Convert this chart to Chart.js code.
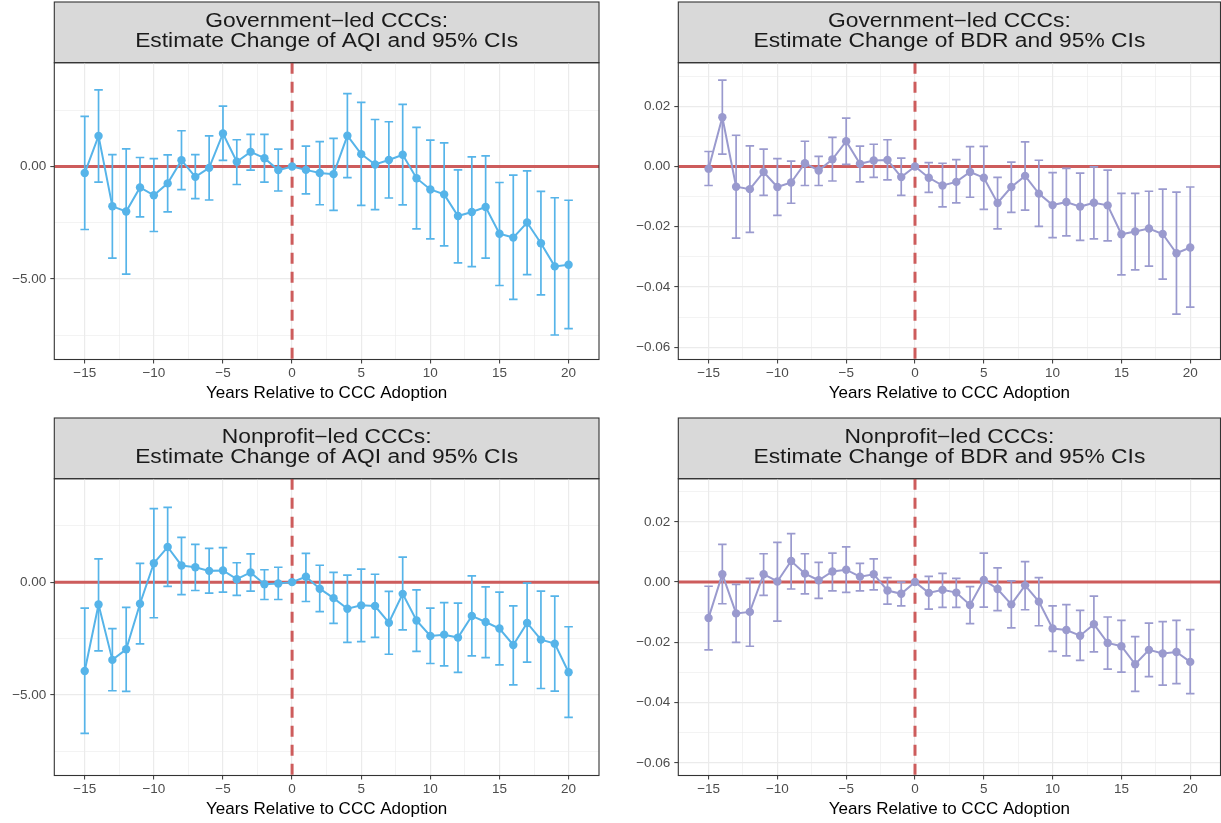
<!DOCTYPE html>
<html>
<head>
<meta charset="utf-8">
<script src="https://cdn.jsdelivr.net/npm/chart.js@4.4.1/dist/chart.umd.min.js"></script>
<style>
  body { margin: 0; background: #fff; width: 1221px; height: 823px; overflow: hidden; position: relative; }
  canvas { position: absolute; }
</style>
</head>
<body>
<canvas id="govAqi" width="605" height="405" style="left:0;top:0"></canvas>
<canvas id="govBdr" width="605" height="405" style="left:620px;top:0"></canvas>
<canvas id="npAqi" width="605" height="405" style="left:0;top:416px"></canvas>
<canvas id="npBdr" width="605" height="405" style="left:620px;top:416px"></canvas>
<script>
// years relative to adoption
const years = [-15,-14,-13,-12,-11,-10,-9,-8,-7,-6,-5,-4,-3,-2,-1,0,1,2,3,4,5,6,7,8,9,10,11,12,13,14,15,16,17,18,19,20];

// Government-led, AQI
const govAqiEst = [-0.29,1.36,-1.77,-2.00,-0.93,-1.28,-0.75,0.28,-0.46,-0.06,1.47,0.21,0.65,0.37,-0.16,0,-0.15,-0.29,-0.34,1.37,0.55,0.09,0.29,0.52,-0.52,-1.02,-1.24,-2.20,-2.02,-1.80,-2.99,-3.16,-2.49,-3.41,-4.44,-4.37];
const govAqiLo = [-2.80,-0.69,-4.07,-4.78,-2.24,-2.89,-2.02,-1.03,-1.43,-1.49,0.27,-0.80,-0.16,-0.69,-1.09,null,-1.22,-1.70,-1.95,-0.49,-1.73,-1.92,-1.40,-1.71,-2.77,-3.22,-3.53,-4.28,-4.45,-4.07,-5.29,-5.91,-4.81,-5.71,-7.49,-7.21];
const govAqiHi = [2.23,3.41,0.53,0.78,0.40,0.35,0.52,1.59,0.53,1.36,2.68,1.19,1.43,1.43,0.77,null,0.91,1.11,1.25,3.24,2.85,2.09,1.99,2.76,1.74,1.17,1.05,-0.15,0.43,0.47,-0.71,-0.38,-0.19,-1.11,-1.39,-1.50];

// Government-led, BDR
const govBdrEst = [-0.0007,0.0164,-0.0067,-0.0075,-0.0018,-0.0068,-0.0053,0.0011,-0.0013,0.0024,0.0084,0.0009,0.0020,0.0022,-0.0035,0,-0.0037,-0.0063,-0.0051,-0.0018,-0.0037,-0.0121,-0.0068,-0.0031,-0.0090,-0.0128,-0.0118,-0.0133,-0.0120,-0.0129,-0.0225,-0.0216,-0.0206,-0.0224,-0.0288,-0.0269];
const govBdrLo = [-0.0063,0.0041,-0.0238,-0.0219,-0.0096,-0.0162,-0.0122,-0.0063,-0.0063,-0.0048,0.0007,-0.0051,-0.0036,-0.0044,-0.0096,null,-0.0086,-0.0134,-0.0121,-0.0102,-0.0142,-0.0207,-0.0152,-0.0145,-0.0199,-0.0236,-0.0230,-0.0245,-0.0240,-0.0247,-0.0360,-0.0343,-0.0331,-0.0374,-0.0490,-0.0467];
const govBdrHi = [0.0050,0.0287,0.0104,0.0069,0.0058,0.0026,0.0018,0.0084,0.0034,0.0097,0.0161,0.0068,0.0074,0.0089,0.0028,null,0.0013,0.0011,0.0023,0.0066,0.0067,-0.0036,0.0015,0.0082,0.0021,-0.0020,-0.0006,-0.0022,-0.0001,-0.0012,-0.0089,-0.0089,-0.0082,-0.0075,-0.0085,-0.0068];

// Nonprofit-led, AQI
const npAqiEst = [-3.94,-0.99,-3.45,-2.98,-0.96,0.84,1.56,0.74,0.66,0.50,0.52,0.13,0.43,-0.09,-0.06,0,0.24,-0.29,-0.71,-1.18,-1.03,-1.06,-1.80,-0.52,-1.70,-2.39,-2.33,-2.46,-1.50,-1.77,-2.06,-2.79,-1.81,-2.55,-2.73,-4.00];
const npAqiLo = [-6.71,-3.05,-4.82,-4.85,-2.74,-1.58,-0.19,-0.55,-0.37,-0.49,-0.44,-0.59,-0.40,-0.77,-0.77,null,-0.86,-1.31,-1.83,-2.67,-2.64,-2.45,-3.20,-2.12,-3.07,-3.61,-3.72,-4.00,-3.27,-3.35,-3.67,-4.56,-3.55,-4.72,-4.84,-6.00];
const npAqiHi = [-1.15,1.03,-2.06,-1.12,0.83,3.26,3.32,1.99,1.68,1.50,1.53,0.86,1.25,0.55,0.66,null,1.28,0.75,0.43,0.31,0.58,0.35,-0.41,1.11,-0.34,-1.15,-0.91,-0.93,0.28,-0.21,-0.44,-1.05,-0.04,-0.40,-0.62,-1.98];

// Nonprofit-led, BDR
const npBdrEst = [-0.0119,0.0026,-0.0104,-0.0099,0.0026,0.0002,0.0070,0.0028,0.0006,0.0035,0.0041,0.0018,0.0026,-0.0028,-0.0039,0,-0.0036,-0.0026,-0.0035,-0.0076,0.0007,-0.0023,-0.0074,-0.0011,-0.0065,-0.0154,-0.0159,-0.0178,-0.0140,-0.0202,-0.0213,-0.0273,-0.0225,-0.0237,-0.0232,-0.0265];
const npBdrLo = [-0.0225,-0.0072,-0.0200,-0.0213,-0.0044,-0.0130,-0.0023,-0.0039,-0.0054,-0.0029,-0.0034,-0.0029,-0.0026,-0.0073,-0.0079,null,-0.0090,-0.0084,-0.0084,-0.0138,-0.0083,-0.0095,-0.0152,-0.0092,-0.0145,-0.0230,-0.0245,-0.0260,-0.0232,-0.0289,-0.0299,-0.0363,-0.0314,-0.0342,-0.0337,-0.0370];
const npBdrHi = [-0.0014,0.0125,-0.0008,0.0012,0.0094,0.0132,0.0161,0.0094,0.0065,0.0096,0.0117,0.0062,0.0077,0.0015,0.0000,null,0.0019,0.0029,0.0012,-0.0015,0.0096,0.0047,0.0004,0.0068,0.0015,-0.0079,-0.0075,-0.0094,-0.0047,-0.0116,-0.0127,-0.0181,-0.0136,-0.0131,-0.0127,-0.0158];

// ticks
const xMajorTicks = [-15,-10,-5,0,5,10,15,20];
const xMinorTicks = [-12.5,-7.5,-2.5,2.5,7.5,12.5,17.5];
const aqiMajorTicks = [-5,0];
const aqiMinorTicks = [-7.5,-2.5,2.5];
const bdrMajorTicks = [-0.06,-0.04,-0.02,0,0.02];
const bdrMinorTicks = [-0.05,-0.03,-0.01,0.01,0.03];

const FONT = "'Liberation Sans', Arial, Helvetica, sans-serif";
const aqiBlue = '#56B4E9';
const bdrPurple = '#9A9ACE';
const refRed = '#CD5C5C';

function isIn(list, v) { return list.some(m => Math.abs(m - v) < 1e-9); }
function minus(s) { return s.replace('-', '\u2212'); }

// grey facet strip with its two-line label, plus the panel border
const stripPlugin = {
  id: 'strip',
  beforeDraw(chart, args, opts) {
    const { ctx, chartArea } = chart;
    const w = chartArea.right - chartArea.left;
    ctx.save();
    ctx.fillStyle = '#D9D9D9';
    ctx.fillRect(chartArea.left, 2, w, chartArea.top - 2);
    ctx.strokeStyle = '#333333';
    ctx.lineWidth = 1.1;
    ctx.strokeRect(chartArea.left, 2, w, chartArea.top - 2);
    ctx.fillStyle = '#1A1A1A';
    ctx.font = '19.5px ' + FONT;
    ctx.textAlign = 'center';
    ctx.textBaseline = 'alphabetic';
    ctx.translate((chartArea.left + chartArea.right) / 2, 0);
    ctx.scale(1.17, 1);
    ctx.fillText(opts.lines[0], 0, 27.3);
    ctx.fillText(opts.lines[1], 0, 46.7);
    ctx.restore();
  },
  afterDraw(chart) {
    const { ctx, chartArea } = chart;
    ctx.save();
    ctx.strokeStyle = '#333333';
    ctx.lineWidth = 1.1;
    ctx.strokeRect(chartArea.left, chartArea.top, chartArea.right - chartArea.left, chartArea.bottom - chartArea.top);
    ctx.restore();
  }
};

// reference lines and error bars go under the estimate line
const errorBarPlugin = {
  id: 'errorBars',
  beforeDatasetsDraw(chart, args, opts) {
    const { ctx, chartArea } = chart;
    const xs = chart.scales.x, ys = chart.scales.y;
    ctx.save();
    ctx.beginPath();
    ctx.rect(chartArea.left, chartArea.top, chartArea.right - chartArea.left, chartArea.bottom - chartArea.top);
    ctx.clip();

    const x0 = xs.getPixelForValue(0), y0 = ys.getPixelForValue(0);
    ctx.strokeStyle = refRed;
    ctx.lineWidth = 3;
    ctx.beginPath();
    ctx.moveTo(chartArea.left, y0);
    ctx.lineTo(chartArea.right, y0);
    ctx.stroke();
    ctx.setLineDash([11, 8]);
    ctx.beginPath();
    ctx.moveTo(x0, chartArea.top);
    ctx.lineTo(x0, chartArea.bottom);
    ctx.stroke();
    ctx.setLineDash([]);

    ctx.strokeStyle = opts.color;
    ctx.lineWidth = 1.7;
    years.forEach((yr, i) => {
      if (opts.lo[i] == null || opts.hi[i] == null) return;
      const x = xs.getPixelForValue(yr);
      const xl = xs.getPixelForValue(yr - 0.31), xr = xs.getPixelForValue(yr + 0.31);
      const yl = ys.getPixelForValue(opts.lo[i]), yh = ys.getPixelForValue(opts.hi[i]);
      ctx.beginPath();
      ctx.moveTo(x, yl); ctx.lineTo(x, yh);
      ctx.moveTo(xl, yl); ctx.lineTo(xr, yl);
      ctx.moveTo(xl, yh); ctx.lineTo(xr, yh);
      ctx.stroke();
    });
    ctx.restore();
  }
};

function makePanel(id, title, est, lo, hi, color, yMin, yMax, yMajor, yMinor, yWidth, padRight) {
  const yTicks = [...yMajor, ...yMinor].sort((a, b) => a - b);
  const xTicks = [...xMajorTicks, ...xMinorTicks].sort((a, b) => a - b);
  return new Chart(document.getElementById(id), {
    type: 'line',
    data: {
      datasets: [{
        data: years.map((yr, i) => ({ x: yr, y: est[i] })),
        borderColor: color,
        backgroundColor: color,
        borderWidth: 2,
        pointRadius: 4.2,
        pointBorderWidth: 0,
        pointBackgroundColor: color,
        tension: 0
      }]
    },
    options: {
      responsive: false,
      animation: false,
      events: [],
      layout: { padding: { top: 62.7, right: padRight, bottom: 0, left: 0 } },
      plugins: {
        legend: { display: false },
        tooltip: { enabled: false },
        title: { display: false },
        strip: { lines: title },
        errorBars: { lo, hi, color }
      },
      scales: {
        x: {
          type: 'linear',
          min: -17.2,
          max: 22.2,
          afterBuildTicks: s => { s.ticks = xTicks.map(v => ({ value: v })); },
          border: { display: false },
          grid: {
            color: '#EBEBEB',
            lineWidth: c => isIn(xMajorTicks, c.tick.value) ? 1.2 : 0.6,
            tickColor: c => isIn(xMajorTicks, c.tick.value) ? '#333333' : 'rgba(0,0,0,0)',
            tickLength: 4,
            tickWidth: 1
          },
          ticks: {
            autoSkip: false,
            maxRotation: 0,
            padding: 1.5,
            color: '#4D4D4D',
            font: { family: FONT, size: 13.5 },
            callback: v => isIn(xMajorTicks, v) ? minus(String(v)) : ''
          },
          title: {
            display: true,
            text: 'Years Relative to CCC Adoption',
            color: '#000000',
            font: { family: FONT, size: 17 },
            padding: { top: 0.4, bottom: 1.5 }
          }
        },
        y: {
          type: 'linear',
          min: yMin,
          max: yMax,
          afterFit: s => { s.width = yWidth; },
          afterBuildTicks: s => { s.ticks = yTicks.map(v => ({ value: v })); },
          border: { display: false },
          grid: {
            color: '#EBEBEB',
            lineWidth: c => isIn(yMajor, c.tick.value) ? 1.2 : 0.6,
            tickColor: c => isIn(yMajor, c.tick.value) ? '#333333' : 'rgba(0,0,0,0)',
            tickLength: 4,
            tickWidth: 1
          },
          ticks: {
            autoSkip: false,
            padding: 4,
            color: '#4D4D4D',
            font: { family: FONT, size: 13.5 },
            callback: v => isIn(yMajor, v) ? minus((Math.abs(v) < 1e-12 ? 0 : v).toFixed(2)) : ''
          }
        }
      }
    },
    plugins: [stripPlugin, errorBarPlugin]
  });
}

makePanel('govAqi', ['Government\u2212led CCCs:', 'Estimate Change of AQI and 95% CIs'],
  govAqiEst, govAqiLo, govAqiHi, aqiBlue, -8.58, 4.615, aqiMajorTicks, aqiMinorTicks, 54.3, 6);
makePanel('govBdr', ['Government\u2212led CCCs:', 'Estimate Change of BDR and 95% CIs'],
  govBdrEst, govBdrLo, govBdrHi, bdrPurple, -0.0641, 0.0345, bdrMajorTicks, bdrMinorTicks, 58.3, 4.5);
makePanel('npAqi', ['Nonprofit\u2212led CCCs:', 'Estimate Change of AQI and 95% CIs'],
  npAqiEst, npAqiLo, npAqiHi, aqiBlue, -8.58, 4.59, aqiMajorTicks, aqiMinorTicks, 54.3, 6);
makePanel('npBdr', ['Nonprofit\u2212led CCCs:', 'Estimate Change of BDR and 95% CIs'],
  npBdrEst, npBdrLo, npBdrHi, bdrPurple, -0.0642, 0.0343, bdrMajorTicks, bdrMinorTicks, 58.3, 4.5);
</script>
</body>
</html>
